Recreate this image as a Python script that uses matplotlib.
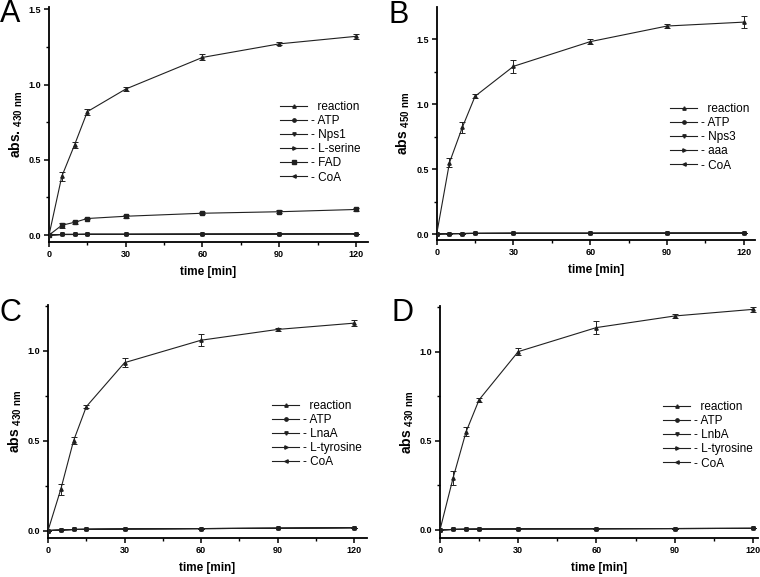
import numpy as np
import matplotlib.pyplot as plt
from matplotlib.ticker import MultipleLocator

plt.rcParams['font.family'] = ['Liberation Sans', 'DejaVu Sans']
plt.rcParams['mathtext.default'] = 'regular'

time = [0, 5, 10, 15, 30, 60, 90, 120]

# panel A (Nps1)
a_labels = ['  reaction', '- ATP', '- Nps1', '- L-serine', '- FAD', '- CoA']
a_reaction = [0, 0.39, 0.60, 0.82, 0.97, 1.18, 1.27, 1.32]
a_reaction_err = [0, 0.03, 0.02, 0.02, 0.015, 0.02, 0.01, 0.015]
a_fad = [0, 0.065, 0.085, 0.11, 0.125, 0.145, 0.155, 0.17]
a_fad_err = [0, 0.015, 0.01, 0.005, 0.01, 0.008, 0.01, 0.012]
a_flat = [0, 0.004, 0.004, 0.005, 0.005, 0.006, 0.007, 0.008]

# panel B (Nps3)
b_labels = ['  reaction', '- ATP', '- Nps3', '- aaa', '- CoA']
b_reaction = [0, 0.55, 0.82, 1.06, 1.29, 1.48, 1.60, 1.63]
b_reaction_err = [0, 0.035, 0.04, 0.015, 0.05, 0.02, 0.015, 0.045]
b_flat = [0, 0.003, 0.004, 0.005, 0.006, 0.006, 0.007, 0.008]

# panel C (LnaA)
c_labels = ['  reaction', '- ATP', '- LnaA', '- L-tyrosine', '- CoA']
c_reaction = [0, 0.23, 0.50, 0.69, 0.935, 1.06, 1.12, 1.155]
c_reaction_err = [0, 0.03, 0.02, 0.01, 0.025, 0.035, 0.01, 0.015]
c_flat = [0, 0.003, 0.006, 0.007, 0.009, 0.011, 0.013, 0.016]

# panel D (LnbA)
d_labels = ['  reaction', '- ATP', '- LnbA', '- L-tyrosine', '- CoA']
d_reaction = [0, 0.29, 0.55, 0.73, 1.00, 1.135, 1.20, 1.237]
d_reaction_err = [0, 0.04, 0.025, 0.012, 0.02, 0.035, 0.01, 0.015]
d_flat = [0, 0.003, 0.004, 0.005, 0.006, 0.007, 0.008, 0.009]

markers = ['^', 'o', 'v', '>', 's', '<']
col = '#202020'


def draw_panel(ax, letter, labels, series, errs, ylab, ylim, xmax, leg_xy):
    handles = []
    for i, (lab, ys) in enumerate(zip(labels, series)):
        mk = markers[i] if i < 4 or len(labels) == 6 else '<'
        c = ax.errorbar(time, ys, yerr=errs[i], color=col, lw=0.8, marker=mk,
                        ms=2.4, capsize=2, elinewidth=0.7, capthick=0.7,
                        zorder=3 - i * 0.1)
        line = c.lines[0]
        line.set_label(lab)
        handles.append(line)
    ax.set_xlim(0, xmax)
    ax.set_ylim(*ylim)
    ax.set_xticks([0, 30, 60, 90, 120])
    ax.xaxis.set_minor_locator(MultipleLocator(15))
    ax.yaxis.set_major_locator(MultipleLocator(0.5))
    ax.yaxis.set_minor_locator(MultipleLocator(0.25))
    ax.yaxis.set_major_formatter(plt.FormatStrFormatter('%.1f'))
    for s in ['top', 'right']:
        ax.spines[s].set_visible(False)
    for s in ['left', 'bottom']:
        ax.spines[s].set_linewidth(1.3)
    ax.tick_params(which='major', direction='out', length=3.5, width=1.1,
                   labelsize=6.5, pad=2)
    ax.tick_params(which='minor', direction='out', length=2.5, width=1.0)
    for t in ax.get_xticklabels() + ax.get_yticklabels():
        t.set_fontweight('bold')
    ax.set_xlabel('time [min]', fontsize=8.5, fontweight='bold', labelpad=5)
    ax.set_ylabel(ylab, fontsize=10, fontweight='bold', labelpad=3)
    ax.legend(handles=handles, loc='upper left', bbox_to_anchor=leg_xy,
              frameon=False, fontsize=8.5, handlelength=2.3,
              handletextpad=0.3, labelspacing=0.18, borderpad=0,
              borderaxespad=0)
    fig.text(ax.get_position().x0 - 0.064, ax.get_position().y1 + 0.013,
             letter, fontsize=22, ha='left', va='top')


fig = plt.figure(figsize=(7.6, 5.77), dpi=100)
axA = fig.add_axes([0.0645, 0.5806, 0.4197, 0.4073])
axB = fig.add_axes([0.5746, 0.584, 0.4187, 0.4038])
axC = fig.add_axes([0.0632, 0.0671, 0.4197, 0.4043])
axD = fig.add_axes([0.5789, 0.0676, 0.418, 0.4021])

z = [0] * len(time)
draw_panel(axA, 'A', a_labels,
           [a_reaction, a_flat, a_flat, a_flat, a_fad, a_flat],
           [a_reaction_err, z, z, z, a_fad_err, z],
           r'abs. $_{430\ nm}$', (-0.046, 1.515), 124.7, (0.724, 0.60))
draw_panel(axB, 'B', b_labels,
           [b_reaction, b_flat, b_flat, b_flat, b_flat],
           [b_reaction_err, z, z, z, z],
           r'abs $_{450\ nm}$', (-0.046, 1.746), 124.3, (0.734, 0.588))
draw_panel(axC, 'C', c_labels,
           [c_reaction, c_flat, c_flat, c_flat, c_flat],
           [c_reaction_err, z, z, z, z],
           r'abs $_{430\ nm}$', (-0.043, 1.256), 125.0, (0.702, 0.593))
draw_panel(axD, 'D', d_labels,
           [d_reaction, d_flat, d_flat, d_flat, d_flat],
           [d_reaction_err, z, z, z, z],
           r'abs $_{430\ nm}$', (-0.045, 1.256), 121.8, (0.702, 0.59))

fig.savefig('out.png', dpi=100)
